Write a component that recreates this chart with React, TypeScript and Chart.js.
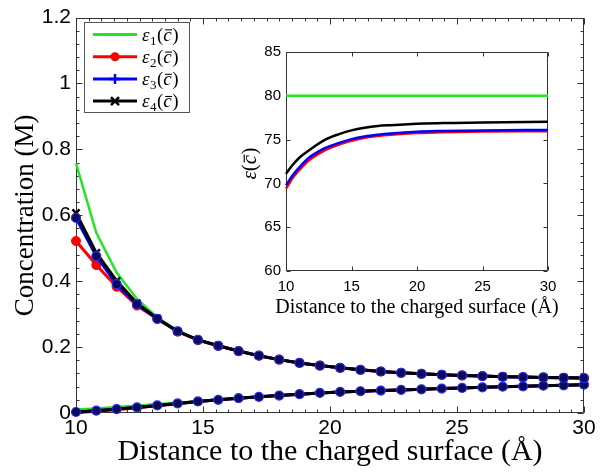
import React, { useEffect, useRef } from "react";
import { Chart, registerables } from "chart.js";
Chart.register(...registerables);

// ---------- main plot data ----------
const distance = [10, 10.8, 11.6, 12.4, 13.2, 14.0, 14.8, 15.6, 16.4, 17.2, 18.0, 18.8, 19.6, 20.4, 21.2, 22.0, 22.8, 23.6, 24.4, 25.2, 26.0, 26.8, 27.6, 28.4, 29.2, 30.0];

const eps1Upper = [0.758, 0.547, 0.426, 0.346, 0.290, 0.250, 0.223, 0.204, 0.188, 0.174, 0.162, 0.152, 0.144, 0.137, 0.131, 0.126, 0.122, 0.119, 0.116, 0.114, 0.112, 0.110, 0.109, 0.108, 0.107, 0.106];
const eps2Upper = [0.522, 0.449, 0.383, 0.326, 0.285, 0.247, 0.221, 0.204, 0.188, 0.174, 0.162, 0.152, 0.144, 0.137, 0.131, 0.126, 0.122, 0.119, 0.116, 0.114, 0.112, 0.110, 0.109, 0.108, 0.107, 0.106];
const eps3Upper = [0.592, 0.476, 0.391, 0.330, 0.286, 0.248, 0.222, 0.204, 0.188, 0.174, 0.162, 0.152, 0.144, 0.137, 0.131, 0.126, 0.122, 0.119, 0.116, 0.114, 0.112, 0.110, 0.109, 0.108, 0.107, 0.106];
const eps4Upper = [0.607, 0.486, 0.401, 0.333, 0.287, 0.248, 0.222, 0.204, 0.188, 0.174, 0.162, 0.152, 0.144, 0.137, 0.131, 0.126, 0.122, 0.119, 0.116, 0.114, 0.112, 0.110, 0.109, 0.108, 0.107, 0.106];

const eps1Lower = [0.011, 0.014, 0.018, 0.022, 0.027, 0.031, 0.036, 0.041, 0.045, 0.049, 0.053, 0.057, 0.061, 0.064, 0.066, 0.068, 0.070, 0.072, 0.074, 0.076, 0.078, 0.080, 0.081, 0.083, 0.084, 0.086];
const eps2Lower = [0.001, 0.005, 0.010, 0.016, 0.022, 0.028, 0.035, 0.040, 0.045, 0.049, 0.053, 0.057, 0.061, 0.064, 0.066, 0.068, 0.070, 0.072, 0.074, 0.076, 0.078, 0.080, 0.081, 0.083, 0.084, 0.086];
const eps3Lower = [0.003, 0.007, 0.012, 0.017, 0.023, 0.029, 0.035, 0.040, 0.045, 0.049, 0.053, 0.057, 0.061, 0.064, 0.066, 0.068, 0.070, 0.072, 0.074, 0.076, 0.078, 0.080, 0.081, 0.083, 0.084, 0.086];
const eps4Lower = [0.003, 0.007, 0.012, 0.017, 0.023, 0.029, 0.035, 0.040, 0.045, 0.049, 0.053, 0.057, 0.061, 0.064, 0.066, 0.068, 0.070, 0.072, 0.074, 0.076, 0.078, 0.080, 0.081, 0.083, 0.084, 0.086];

const mainXTicks = { min: 10, max: 30, step: 5, minor: 0.5 };
const mainYTicks = { min: 0, max: 1.2, step: 0.2, minor: 0.04 };

// ---------- inset data ----------
const insetDistance = [10, 10.5, 11, 11.5, 12, 13, 14, 15, 16, 17, 18, 20, 22, 25, 30];
const insetEps1 = [80, 80, 80, 80, 80, 80, 80, 80, 80, 80, 80, 80, 80, 80, 80];
const insetEps2 = [69.4, 70.6, 71.5, 72.3, 72.9, 73.8, 74.4, 74.85, 75.2, 75.4, 75.55, 75.75, 75.85, 75.92, 75.95];
const insetEps3 = [69.8, 70.9, 71.8, 72.6, 73.2, 74.05, 74.6, 75.05, 75.35, 75.55, 75.7, 75.9, 75.98, 76.05, 76.1];
const insetEps4 = [71.1, 72.1, 72.9, 73.5, 74.05, 75.0, 75.6, 76.05, 76.35, 76.55, 76.65, 76.8, 76.9, 76.95, 77.05];

const insetXTicks = { min: 10, max: 30, step: 5 };
const insetYTicks = { min: 60, max: 85, step: 5 };

const legendSubscripts = ["1", "2", "3", "4"];
const xTitle = "Distance to the charged surface (Å)";
const yTitle = "Concentration (M)";

const GREEN = "#22e622";
const RED = "#ff0000";
const BLUE = "#0000ff";
const BLACK = "#000000";
const NAVY = "#0c0c55";

const pts = (xs: number[], ys: number[]) => xs.map((x, i) => ({ x, y: ys[i] }));
const fmt = (v: any) => String(Number(Number(v).toFixed(2)));

function drawEpsLabel(ctx: any, x: number, baseline: number, size: number, sub: string | null) {
  let cx = x;
  ctx.textBaseline = "alphabetic";
  ctx.textAlign = "left";
  ctx.fillStyle = "#000";
  ctx.font = `italic ${size}px "Liberation Serif"`;
  ctx.fillText("ε", cx, baseline);
  cx += ctx.measureText("ε").width;
  if (sub) {
    const ss = Math.round(size * 0.68);
    ctx.font = `${ss}px "Liberation Serif"`;
    ctx.fillText(sub, cx + 0.5, baseline + size * 0.22);
    cx += ctx.measureText(sub).width + 1;
  }
  ctx.font = `${size}px "Liberation Serif"`;
  ctx.fillText("(", cx, baseline);
  cx += ctx.measureText("(").width;
  ctx.font = `italic ${size}px "Liberation Serif"`;
  ctx.fillText("c", cx, baseline);
  const cw = ctx.measureText("c").width;
  ctx.strokeStyle = "#000";
  ctx.lineWidth = Math.max(1, size * 0.055);
  ctx.beginPath();
  ctx.moveTo(cx + 1.8, baseline - size * 0.56);
  ctx.lineTo(cx + cw + 0.3, baseline - size * 0.56);
  ctx.stroke();
  cx += cw + 0.5;
  ctx.font = `${size}px "Liberation Serif"`;
  ctx.fillText(")", cx, baseline);
}

function frameAndTicks(chart: any, xt: any, yt: any, majorLen: number, minorLen: number, color: string) {
  const { ctx, chartArea } = chart;
  const { left, right, top, bottom } = chartArea;
  const xs = chart.scales.x;
  const ys = chart.scales.y;
  ctx.save();
  ctx.strokeStyle = color;
  ctx.lineWidth = 1;
  ctx.beginPath();
  const L = Math.round(left) + 0.5, R = Math.round(right) - 0.5, T = Math.round(top) + 0.5, B = Math.round(bottom) - 0.5;
  ctx.rect(L, T, R - L, B - T);
  const vx = (v: number, len: number) => {
    const p = Math.round(xs.getPixelForValue(v)) + 0.5;
    ctx.moveTo(p, B); ctx.lineTo(p, B - len);
    ctx.moveTo(p, T); ctx.lineTo(p, T + len);
  };
  const vy = (v: number, len: number) => {
    const p = Math.round(ys.getPixelForValue(v)) + 0.5;
    ctx.moveTo(L, p); ctx.lineTo(L + len, p);
    ctx.moveTo(R, p); ctx.lineTo(R - len, p);
  };
  const nx = Math.round((xt.max - xt.min) / xt.step);
  for (let k = 0; k <= nx; k++) vx(xt.min + k * xt.step, majorLen);
  const ny = Math.round((yt.max - yt.min) / yt.step);
  for (let k = 0; k <= ny; k++) vy(yt.min + k * yt.step, majorLen);
  if (xt.minor) {
    const n = Math.round((xt.max - xt.min) / xt.minor);
    for (let k = 0; k <= n; k++) vx(xt.min + k * xt.minor, minorLen);
  }
  if (yt.minor) {
    const n = Math.round((yt.max - yt.min) / yt.minor);
    for (let k = 0; k <= n; k++) vy(yt.min + k * yt.minor, minorLen);
  }
  ctx.stroke();
  ctx.restore();
}

const mainFramePlugin = {
  id: "mainFrame",
  beforeDatasetsDraw(chart: any) {
    frameAndTicks(chart, mainXTicks, mainYTicks, 6, 3, "#333");
  },
  afterDatasetsDraw(chart: any) {
    const ctx = chart.ctx;
    ctx.save();
    const bx = 84, by = 22, bw = 105, bh = 90;
    ctx.fillStyle = "#fff";
    ctx.fillRect(bx, by, bw, bh);
    ctx.strokeStyle = "#555";
    ctx.lineWidth = 1;
    ctx.strokeRect(bx + 0.5, by + 0.5, bw, bh);
    const colors = [GREEN, RED, BLUE, BLACK];
    legendSubscripts.forEach((s, i) => {
      const y = 34.5 + i * 22.2;
      ctx.strokeStyle = colors[i];
      ctx.lineWidth = 3;
      ctx.beginPath();
      ctx.moveTo(93, y);
      ctx.lineTo(137, y);
      ctx.stroke();
      const mx = 115;
      if (i === 1) {
        ctx.fillStyle = RED;
        ctx.beginPath();
        ctx.arc(mx, y, 4.5, 0, Math.PI * 2);
        ctx.fill();
      } else if (i === 2) {
        ctx.strokeStyle = BLUE;
        ctx.lineWidth = 2.5;
        ctx.beginPath();
        ctx.moveTo(mx, y - 5); ctx.lineTo(mx, y + 5);
        ctx.moveTo(mx - 5, y); ctx.lineTo(mx + 5, y);
        ctx.stroke();
      } else if (i === 3) {
        ctx.strokeStyle = BLACK;
        ctx.lineWidth = 2.5;
        ctx.beginPath();
        ctx.moveTo(mx - 4, y - 4); ctx.lineTo(mx + 4, y + 4);
        ctx.moveTo(mx + 4, y - 4); ctx.lineTo(mx - 4, y + 4);
        ctx.stroke();
      }
      drawEpsLabel(ctx, 142, y + 6, 19, s);
    });
    ctx.restore();
  },
};

const insetFramePlugin = {
  id: "insetFrame",
  beforeDatasetsDraw(chart: any) {
    frameAndTicks(chart, insetXTicks, insetYTicks, 4, 0, "#333");
  },
  afterDraw(chart: any) {
    const ctx = chart.ctx;
    const { left, right, top, bottom } = chart.chartArea;
    ctx.save();
    ctx.fillStyle = "#000";
    ctx.font = '20px "Liberation Serif"';
    ctx.textAlign = "center";
    ctx.textBaseline = "middle";
    ctx.fillText(xTitle, (left + right) / 2, 270);
    ctx.translate(17, (top + bottom) / 2);
    ctx.rotate(-Math.PI / 2);
    drawEpsLabel(ctx, -18, 7, 21, null);
    ctx.restore();
  },
};

export default function App() {
  const mainRef = useRef<HTMLCanvasElement>(null);
  const insetRef = useRef<HTMLCanvasElement>(null);

  useEffect(() => {
    const lineDs = (label: string, data: any, color: string, width: number, extra: any = {}) => ({
      label,
      data,
      borderColor: color,
      backgroundColor: color,
      borderWidth: width,
      pointRadius: 0,
      tension: 0,
      clip: false,
      ...extra,
    });
    const main = new Chart(mainRef.current as HTMLCanvasElement, {
      type: "line",
      data: {
        datasets: [
          lineDs("ε3 markers upper", pts(distance, eps3Upper), BLUE, 0, { showLine: false, pointRadius: 4.5, pointBackgroundColor: NAVY, pointBorderColor: "#2a2aff", pointBorderWidth: 1.2, order: 0 }),
          lineDs("ε3 markers lower", pts(distance, eps3Lower), BLUE, 0, { showLine: false, pointRadius: 4.5, pointBackgroundColor: NAVY, pointBorderColor: "#2a2aff", pointBorderWidth: 1.2, order: 0 }),
          lineDs("ε4 upper", pts(distance, eps4Upper), BLACK, 3, { pointRadius: 5, pointStyle: "crossRot", pointBorderWidth: 2.5, pointBorderColor: BLACK, order: 1 }),
          lineDs("ε4 lower", pts(distance, eps4Lower), BLACK, 3, { order: 1 }),
          lineDs("ε3 upper", pts(distance, eps3Upper), BLUE, 3, { order: 2 }),
          lineDs("ε3 lower", pts(distance, eps3Lower), BLUE, 3, { order: 2 }),
          lineDs("ε2 upper", pts(distance, eps2Upper), RED, 3, { pointRadius: 4.5, pointBackgroundColor: RED, pointBorderColor: RED, pointBorderWidth: 1, order: 3 }),
          lineDs("ε2 lower", pts(distance, eps2Lower), RED, 3, { order: 3 }),
          lineDs("ε1 upper", pts(distance, eps1Upper), GREEN, 2.5, { order: 4 }),
          lineDs("ε1 lower", pts(distance, eps1Lower), GREEN, 2.5, { order: 4 }),
        ],
      },
      options: {
        responsive: false,
        animation: false,
        devicePixelRatio: 1,
        layout: { padding: { left: 0, right: 17, top: 15, bottom: 0 } },
        plugins: { legend: { display: false }, tooltip: { enabled: false } },
        scales: {
          x: {
            type: "linear",
            min: mainXTicks.min,
            max: mainXTicks.max,
            grid: { display: false, drawTicks: false },
            border: { display: false },
            ticks: { stepSize: mainXTicks.step, color: "#000", font: { family: "Liberation Sans", size: 21 }, padding: 3, maxRotation: 0, autoSkip: false, callback: fmt },
            title: { display: true, text: xTitle, color: "#000", font: { family: "Liberation Serif", size: 30 }, padding: { top: 0, bottom: 6 } },
            afterFit: (s: any) => { s.height = 63; },
          },
          y: {
            type: "linear",
            min: mainYTicks.min,
            max: mainYTicks.max,
            grid: { display: false, drawTicks: false },
            border: { display: false },
            ticks: { stepSize: mainYTicks.step, color: "#000", font: { family: "Liberation Sans", size: 21 }, padding: 5, callback: fmt },
            title: { display: true, text: yTitle, color: "#000", font: { family: "Liberation Serif", size: 27 }, padding: { top: 10, bottom: 0 } },
            afterFit: (s: any) => { s.width = 76; },
          },
        },
      },
      plugins: [mainFramePlugin],
    } as any);

    const inset = new Chart(insetRef.current as HTMLCanvasElement, {
      type: "line",
      data: {
        datasets: [
          lineDs("ε4", pts(insetDistance, insetEps4), BLACK, 2.5, { cubicInterpolationMode: "monotone", order: 1 }),
          lineDs("ε3", pts(insetDistance, insetEps3), BLUE, 2.5, { cubicInterpolationMode: "monotone", order: 2 }),
          lineDs("ε2", pts(insetDistance, insetEps2), RED, 2.5, { cubicInterpolationMode: "monotone", order: 3 }),
          lineDs("ε1", pts(insetDistance, insetEps1), GREEN, 2.5, { order: 4 }),
        ],
      },
      options: {
        responsive: false,
        animation: false,
        devicePixelRatio: 1,
        layout: { padding: { left: 0, right: 29, top: 14, bottom: 0 } },
        plugins: { legend: { display: false }, tooltip: { enabled: false } },
        scales: {
          x: {
            type: "linear",
            min: insetXTicks.min,
            max: insetXTicks.max,
            grid: { display: false, drawTicks: false },
            border: { display: false },
            ticks: { stepSize: insetXTicks.step, color: "#000", font: { family: "Liberation Sans", size: 15 }, padding: 7, maxRotation: 0, autoSkip: false },
            afterFit: (s: any) => { s.height = 52; },
          },
          y: {
            type: "linear",
            min: insetYTicks.min,
            max: insetYTicks.max,
            grid: { display: false, drawTicks: false },
            border: { display: false },
            ticks: { stepSize: insetYTicks.step, color: "#000", font: { family: "Liberation Sans", size: 15 }, padding: 5 },
            afterFit: (s: any) => { s.width = 54; },
          },
        },
      },
      plugins: [insetFramePlugin],
    } as any);

    return () => {
      main.destroy();
      inset.destroy();
    };
  }, []);

  return (
    <div style={{ position: "fixed", left: 0, top: 0, width: 601, height: 476, background: "#fff" }}>
      <canvas ref={mainRef} width={601} height={476} style={{ position: "absolute", left: 0, top: 0, width: 601, height: 476 }} />
      <canvas ref={insetRef} width={345} height={285} style={{ position: "absolute", left: 232, top: 38, width: 345, height: 285 }} />
    </div>
  );
}
